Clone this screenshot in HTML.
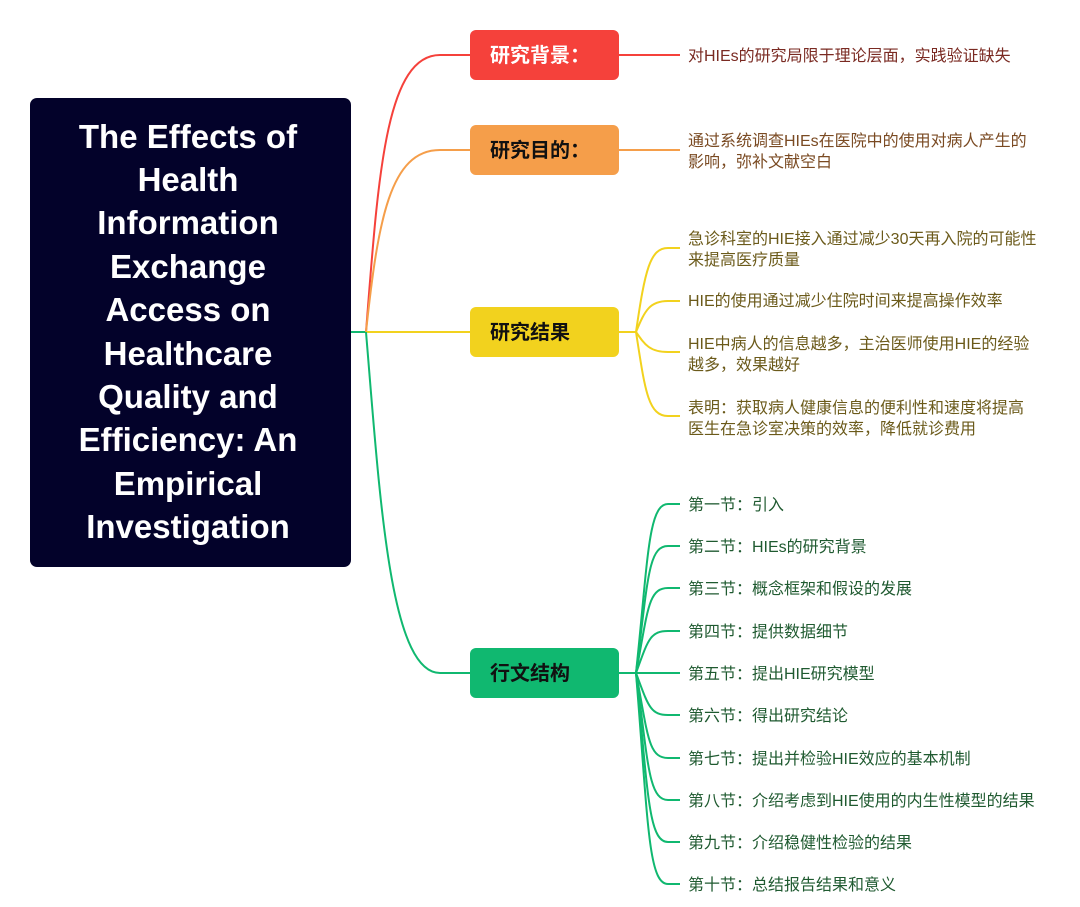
<!DOCTYPE html>
<html><head><meta charset="utf-8"><style>
html,body{margin:0;padding:0;background:#fff;}
svg{display:block}
text{font-family:"Liberation Sans","Noto Sans CJK SC",sans-serif;}
</style></head><body>
<svg width="1080" height="907" viewBox="0 0 1080 907" xmlns="http://www.w3.org/2000/svg">
<rect x="30" y="98" width="321" height="469" rx="7" fill="#03022a"/>
<g fill="#fff" font-weight="bold" font-size="33" text-anchor="middle">
<text x="188" y="148">The Effects of</text>
<text x="188" y="191">Health</text>
<text x="188" y="234">Information</text>
<text x="188" y="278">Exchange</text>
<text x="188" y="321">Access on</text>
<text x="188" y="365">Healthcare</text>
<text x="188" y="408">Quality and</text>
<text x="188" y="451">Efficiency: An</text>
<text x="188" y="495">Empirical</text>
<text x="188" y="538">Investigation</text>
</g>
<g fill="none" stroke-width="2">
<path d="M351,332 H366" stroke="#10b870"/>
<path d="M366,332 C378,180 385,55 440,55 H470" stroke="#f5413b"/>
<path d="M366,332 C378,220 390,150 440,150 H470" stroke="#f59e4a"/>
<path d="M366,332 H470" stroke="#f2d21e"/>
<path d="M366,332 C380,500 390,673 440,673 H470" stroke="#10b870"/>
<path d="M619,55 H680" stroke="#f5413b"/>
<path d="M619,150 H680" stroke="#f59e4a"/>
<g stroke="#f2d21e">
<path d="M619,332 H636"/>
<path d="M636,332 C645,270 650,248 668,248 H680"/>
<path d="M636,332 C645,310 650,301 668,301 H680"/>
<path d="M636,332 C645,345 650,352 668,352 H680"/>
<path d="M636,332 C645,390 648,416 668,416 H680"/>
</g>
<g stroke="#10b870">
<path d="M619,673 H636"/>
<path d="M636,673 C648,560 648,504 668,504 H680"/>
<path d="M636,673 C648,580 648,546 668,546 H680"/>
<path d="M636,673 C648,610 648,588 668,588 H680"/>
<path d="M636,673 C648,640 650,631 668,631 H680"/>
<path d="M636,673 H680"/>
<path d="M636,673 C648,705 650,715 668,715 H680"/>
<path d="M636,673 C648,735 648,758 668,758 H680"/>
<path d="M636,673 C648,760 648,800 668,800 H680"/>
<path d="M636,673 C648,790 648,842 668,842 H680"/>
<path d="M636,673 C648,820 648,884 668,884 H680"/>
</g>
</g>
<rect x="470" y="30" width="149" height="50" rx="6" fill="#f5413b"/>
<rect x="470" y="125" width="149" height="50" rx="6" fill="#f59e4a"/>
<rect x="470" y="307" width="149" height="50" rx="6" fill="#f2d21e"/>
<rect x="470" y="648" width="149" height="50" rx="6" fill="#10b870"/>
<g font-weight="bold" font-size="20">
<text x="490" y="62" fill="#fff">研究背景：</text>
<text x="490" y="157" fill="#111">研究目的：</text>
<text x="490" y="339" fill="#111">研究结果</text>
<text x="490" y="680" fill="#111">行文结构</text>
</g>
<g font-size="16">
<text x="688" y="61" fill="#7a2a22">对HIEs的研究局限于理论层面，实践验证缺失</text>
<g fill="#7a4a22"><text x="688" y="146">通过系统调查HIEs在医院中的使用对病人产生的</text><text x="688" y="167">影响，弥补文献空白</text></g>
<g fill="#6b5a1a">
<text x="688" y="244">急诊科室的HIE接入通过减少30天再入院的可能性</text>
<text x="688" y="265">来提高医疗质量</text>
<text x="688" y="306">HIE的使用通过减少住院时间来提高操作效率</text>
<text x="688" y="349">HIE中病人的信息越多，主治医师使用HIE的经验</text>
<text x="688" y="370">越多，效果越好</text>
<text x="688" y="413">表明：获取病人健康信息的便利性和速度将提高</text>
<text x="688" y="434">医生在急诊室决策的效率，降低就诊费用</text>
</g>
<g fill="#1f5a30">
<text x="688" y="510">第一节：引入</text>
<text x="688" y="552">第二节：HIEs的研究背景</text>
<text x="688" y="594">第三节：概念框架和假设的发展</text>
<text x="688" y="637">第四节：提供数据细节</text>
<text x="688" y="679">第五节：提出HIE研究模型</text>
<text x="688" y="721">第六节：得出研究结论</text>
<text x="688" y="764">第七节：提出并检验HIE效应的基本机制</text>
<text x="688" y="806">第八节：介绍考虑到HIE使用的内生性模型的结果</text>
<text x="688" y="848">第九节：介绍稳健性检验的结果</text>
<text x="688" y="890">第十节：总结报告结果和意义</text>
</g>
</g>
</svg>
</body></html>
